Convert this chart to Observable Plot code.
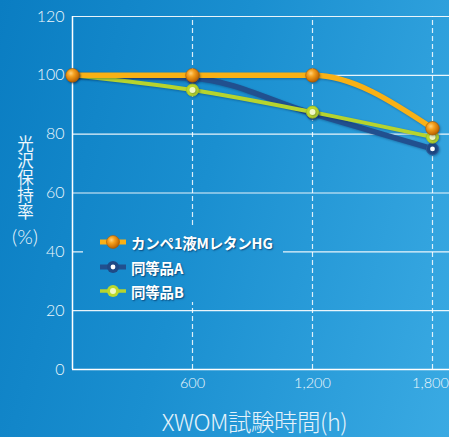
<!DOCTYPE html>
<html><head><meta charset="utf-8">
<script src="https://cdn.jsdelivr.net/npm/d3@7"></script>
<script src="https://cdn.jsdelivr.net/npm/@observablehq/plot@0.6"></script>
<style>
html,body{margin:0;padding:0;}
#page{position:relative;width:449px;height:437px;overflow:hidden;
  background:linear-gradient(105deg,#0a7dc2 0%,#1a8fd0 45%,#3aaae3 100%);background-attachment:fixed;
  font-family:"Noto Sans CJK JP","Noto Sans",sans-serif;color:#fff;}
#chart{position:absolute;left:0;top:0;}
#chart svg{overflow:visible;background:transparent;}
#chart g[aria-label="line"]{filter:drop-shadow(1px 1.5px 1px rgba(0,30,70,0.35));}
#chart g[aria-label="dot"]{filter:drop-shadow(1px 1px 1px rgba(0,30,70,0.35));}
#ytitle{position:absolute;left:17px;top:135px;width:17px;word-break:break-all;
  font-family:"Noto Sans CJK JP",sans-serif;font-size:16.5px;line-height:17px;color:#eef7fc;font-weight:400;text-align:center;}
#ypct{position:absolute;left:0;width:50px;text-align:center;top:224px;font-size:20px;color:#eef7fc;font-family:Lato,"Open Sans",sans-serif;font-weight:300;}
#xtitle{position:absolute;left:0;width:509px;text-align:center;top:404px;font-size:23.5px;color:#e4f2fa;font-weight:300;font-family:"Noto Sans CJK JP",sans-serif;letter-spacing:-0.5px;}
#legend{position:absolute;left:83px;top:228px;width:200px;height:74px;
  background:linear-gradient(105deg,#0a7dc2 0%,#1a8fd0 45%,#3aaae3 100%);background-attachment:fixed;}
.li{position:absolute;left:16px;height:20px;display:flex;align-items:center;}
.li span{font-weight:700;font-size:14.5px;margin-left:4px;text-shadow:1px 1px 1.5px rgba(0,30,70,0.6);letter-spacing:-0.2px;}
</style></head>
<body><div id="page">
<div id="chart"></div>
<div id="ytitle">光沢保持率</div>
<div id="ypct">(%)</div>
<div id="xtitle">XWOM試験時間(h)</div>
<div id="legend"></div>
</div>
<script>
// ---- data ----
const times = [0, 600, 1200, 1800];
const seriesNames = ["カンペ1液MレタンHG", "同等品A", "同等品B"];
const kanpeValues = [100, 100, 100, 82];
const productAValues = [100, 99, 87, 75];
const productBValues = [100, 95, 87.5, 79];
const yTicks = [0, 20, 40, 60, 80, 100, 120];
const xTicks = [600, 1200, 1800];
const xTickLabels = ["600", "1,200", "1,800"];

const valueLists = [kanpeValues, productAValues, productBValues];
const rows = seriesNames.flatMap((s, i) => times.map((t, j) => ({series: s, t, v: valueLists[i][j]})));
const bySeries = s => rows.filter(d => d.series === s);
const xLabel = d => xTickLabels[xTicks.indexOf(d)];

const colors = {line: ["#f9b115", "#21508f", "#b6d42e"]};

const plot = Plot.plot({
  width: 449, height: 437,
  marginLeft: 72, marginRight: 0, marginTop: 16, marginBottom: 68,
  style: {background: "transparent", fontFamily: "Lato, 'Open Sans', sans-serif", color: "#eef7fc"},
  x: {domain: [0, 1885], axis: null},
  y: {domain: [0, 120], axis: null},
  marks: [
    Plot.ruleY(yTicks.filter(d => d > 0), {stroke: "#ffffff", strokeOpacity: 0.9, strokeWidth: 1.2}),
    Plot.ruleX(xTicks, {y1: 0, y2: 120, stroke: "#ffffff", strokeOpacity: 0.85, strokeWidth: 1.2, strokeDasharray: "5,3"}),
    Plot.ruleY([0], {stroke: "#ffffff", strokeWidth: 1.5}),
    Plot.ruleX([0], {y1: 0, y2: 120, stroke: "#ffffff", strokeWidth: 1.5}),
    Plot.axisY({ticks: yTicks, label: null, tickSize: 0, tickPadding: 8, fontSize: 16, fontWeight: 300, tickFormat: d => String(d)}),
    Plot.axisX({ticks: xTicks.slice(0, 2), label: null, tickSize: 0, tickPadding: 8, fontSize: 14.5, fontWeight: 300, tickFormat: xLabel}),
    Plot.axisX({ticks: xTicks.slice(2), label: null, tickSize: 0, tickPadding: 8, fontSize: 14.5, fontWeight: 300, dx: -2, tickFormat: xLabel}),
    Plot.line(bySeries(seriesNames[1]), {x: "t", y: "v", stroke: colors.line[1], strokeWidth: 5.5, curve: "monotone-x"}),
    Plot.line(bySeries(seriesNames[2]), {x: "t", y: "v", stroke: colors.line[2], strokeWidth: 4, curve: "monotone-x"}),
    Plot.line(bySeries(seriesNames[0]), {x: "t", y: "v", stroke: colors.line[0], strokeWidth: 5.5, curve: "monotone-x"}),
    Plot.dot(bySeries(seriesNames[1]), {x: "t", y: "v", r: 6, fill: "#1f4a86", stroke: "#2c5a99", strokeWidth: 1}),
    Plot.dot(bySeries(seriesNames[1]), {x: "t", y: "v", r: 2.4, fill: "#ffffff"}),
    Plot.dot(bySeries(seriesNames[2]), {x: "t", y: "v", r: 6, fill: "#bcd82c", stroke: "#a8c623", strokeWidth: 1}),
    Plot.dot(bySeries(seriesNames[2]), {x: "t", y: "v", r: 3, fill: "#f1f8c4"}),
    Plot.dot(bySeries(seriesNames[0]), {x: "t", y: "v", r: 6.8, fill: "url(#orangeBall)", stroke: "#a65a05", strokeWidth: 0.6})
  ]
});

// gradient defs for the orange ball markers
const ns = "http://www.w3.org/2000/svg";
const defs = document.createElementNS(ns, "defs");
defs.innerHTML = `<radialGradient id="orangeBall" cx="38%" cy="35%" r="70%">
  <stop offset="0%" stop-color="#ffd27a"/><stop offset="35%" stop-color="#f5a11f"/>
  <stop offset="80%" stop-color="#c96f06"/><stop offset="100%" stop-color="#a85800"/></radialGradient>
  <radialGradient id="orangeBallL" cx="38%" cy="35%" r="70%">
  <stop offset="0%" stop-color="#ffd27a"/><stop offset="35%" stop-color="#f5a11f"/>
  <stop offset="80%" stop-color="#c96f06"/><stop offset="100%" stop-color="#a85800"/></radialGradient>`;
plot.insertBefore(defs, plot.firstChild);
plot.querySelectorAll('g[aria-label="y-axis tick label"] text, g[aria-label="x-axis tick label"] text').forEach(t => t.setAttribute("fill", "#eef7fc"));
document.getElementById("chart").appendChild(plot);

// legend
const legend = document.getElementById("legend");
const legendTops = [4, 29, 53];
const swatches = [
  `<svg width="28" height="16"><line x1="1" x2="27" y1="8" y2="8" stroke="${colors.line[0]}" stroke-width="5"/><circle cx="14" cy="8" r="6.5" fill="url(#orangeBallL)" stroke="#a65a05" stroke-width="0.6"/></svg>`,
  `<svg width="28" height="16"><line x1="1" x2="27" y1="8" y2="8" stroke="${colors.line[1]}" stroke-width="5"/><circle cx="14" cy="8" r="6" fill="#1f4a86"/><circle cx="14" cy="8" r="2.4" fill="#fff"/></svg>`,
  `<svg width="28" height="16"><line x1="1" x2="27" y1="8" y2="8" stroke="${colors.line[2]}" stroke-width="3.5"/><circle cx="14" cy="8" r="6" fill="#bcd82c"/><circle cx="14" cy="8" r="3" fill="#f1f8c4"/></svg>`
];
seriesNames.forEach((name, i) => {
  const d = document.createElement("div");
  d.className = "li";
  d.style.top = legendTops[i] + "px";
  d.innerHTML = swatches[i] + `<span>${name}</span>`;
  legend.appendChild(d);
});
</script>
</body></html>
